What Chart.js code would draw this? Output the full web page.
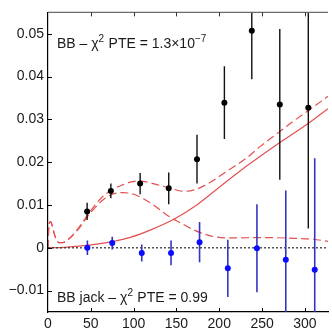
<!DOCTYPE html>
<html><head><meta charset="utf-8">
<script src="https://cdn.jsdelivr.net/npm/chart.js@4/dist/chart.umd.min.js"></script>
<style>html,body{margin:0;padding:0;background:#fff;}#wrap{width:332px;height:330px;}</style>
</head><body><div id="wrap"><canvas id="c" width="332" height="330"></canvas></div>
<script>
// Data
const bbEll = [45.7, 73.4, 107.6, 141, 174, 206, 238, 270.7, 304];
const bbVal = [0.0085, 0.0133, 0.0150, 0.0139, 0.0207, 0.0339, 0.0507, 0.0335, 0.0327];
const bbErr = [0.0020, 0.0017, 0.0025, 0.0037, 0.0057, 0.0085, 0.0113, 0.0176, 0.0282];
const jackEll = [46, 75, 109.5, 143.7, 177, 210, 244, 277.7, 311.5];
const jackVal = [0.0000, 0.0011, -0.0012, -0.0012, 0.0013, -0.0048, -0.0001, -0.0028, -0.0051];
const jackErr = [0.0017, 0.0015, 0.0020, 0.0029, 0.0047, 0.0067, 0.0103, 0.0162, 0.026];
const lensEll = [0, 20, 36, 50, 74, 97, 120, 148, 175, 201, 232, 267, 300, 327];
const lensBB = [0, 0.0001, 0.0004, 0.0007, 0.0014, 0.0025, 0.0042, 0.0068, 0.0102, 0.0143, 0.0191, 0.0241, 0.0285, 0.0325];
const tensEll = [0, 1, 2.5, 4, 7, 10, 13, 17, 22, 28, 36, 47, 63, 75, 88, 100, 112, 124, 140, 155, 167, 180, 194, 215, 250, 290, 310, 327];
const tensBB = [0, 0.005, 0.0061, 0.0058, 0.0035, 0.0018, 0.0012, 0.0012, 0.0017, 0.0027, 0.0045, 0.0075, 0.011, 0.0125, 0.0129, 0.0125, 0.0114, 0.0099, 0.0075, 0.0058, 0.0045, 0.0034, 0.0026, 0.0023, 0.0024, 0.0022, 0.0020, 0.0015];
const totEll = [0, 1, 2.5, 4, 7, 10, 13, 17, 22, 28, 36, 47, 63, 75, 86, 95, 105, 117, 130, 140, 150, 159, 172, 186, 209, 232, 248, 267, 286, 305, 327];
const totBB = [0, 0.005, 0.0061, 0.0058, 0.0035, 0.0018, 0.0012, 0.0012, 0.0017, 0.0028, 0.0047, 0.0079, 0.0118, 0.0136, 0.0146, 0.0153, 0.0156, 0.0153, 0.0146, 0.0141, 0.0135, 0.0132, 0.0136, 0.0149, 0.0179, 0.0210, 0.0237, 0.0266, 0.0295, 0.0322, 0.0354];
const zeroEll = [0, 327];
const zeroVal = [0, 0];
const xTicks = [0, 50, 100, 150, 200, 250, 300];
const xTickLabels = ['0', '50', '100', '150', '200', '250', '300'];
const yTicks = [-0.01, 0, 0.01, 0.02, 0.03, 0.04, 0.05];
const yTickLabels = ['\u22120.01', '0', '0.01', '0.02', '0.03', '0.04', '0.05'];
const topLabel = ['BB \u2013 \u03c7', '2', ' PTE = 1.3\u00d710', '\u22127'];
const bottomLabel = ['BB jack \u2013 \u03c7', '2', ' PTE = 0.99'];

const pts = (xs, ys) => xs.map((x, i) => ({x: x, y: ys[i]}));
const FONT = '"Liberation Sans", Arial, sans-serif';
const RED = 'rgb(228,80,80)';

const decor = {
  id: 'decor',
  beforeDatasetDraw(chart, args) {
    if (args.index !== 1) return;
    const ctx = chart.ctx, xs = chart.scales.x, ys = chart.scales.y, a = chart.chartArea;
    ctx.save();
    ctx.beginPath(); ctx.rect(a.left, a.top, a.right - a.left, a.bottom - a.top); ctx.clip();
    ctx.lineWidth = 1.4;
    ctx.strokeStyle = '#111';
    bbEll.forEach((e, i) => {
      const px = xs.getPixelForValue(e);
      ctx.beginPath();
      ctx.moveTo(px, ys.getPixelForValue(bbVal[i] - bbErr[i]));
      ctx.lineTo(px, ys.getPixelForValue(bbVal[i] + bbErr[i]));
      ctx.stroke();
    });
    ctx.strokeStyle = '#3434bf';
    ctx.lineWidth = 1.6;
    jackEll.forEach((e, i) => {
      const px = xs.getPixelForValue(e);
      ctx.beginPath();
      ctx.moveTo(px, ys.getPixelForValue(jackVal[i] - jackErr[i]));
      ctx.lineTo(px, ys.getPixelForValue(jackVal[i] + jackErr[i]));
      ctx.stroke();
    });
    ctx.restore();
  },
  afterDraw(chart) {
    const ctx = chart.ctx, xs = chart.scales.x, ys = chart.scales.y, a = chart.chartArea;
    ctx.save();
    // top border
    ctx.strokeStyle = '#6a6a6a'; ctx.lineWidth = 1.3;
    ctx.beginPath(); ctx.moveTo(a.left, a.top); ctx.lineTo(a.right, a.top); ctx.stroke();
    // inward ticks
    const L = 4;
    xTicks.forEach(v => {
      const px = Math.round(xs.getPixelForValue(v)) + 0.5;
      if (v === 0) return;
      ctx.strokeStyle = '#000'; ctx.lineWidth = 1;
      ctx.beginPath(); ctx.moveTo(px, a.bottom); ctx.lineTo(px, a.bottom - L); ctx.stroke();
      ctx.strokeStyle = '#333';
      ctx.beginPath(); ctx.moveTo(px, a.top); ctx.lineTo(px, a.top + L); ctx.stroke();
    });
    yTicks.forEach(v => {
      const py = Math.round(ys.getPixelForValue(v)) + 0.5;
      ctx.strokeStyle = '#000'; ctx.lineWidth = 1;
      ctx.beginPath(); ctx.moveTo(a.left, py); ctx.lineTo(a.left + L, py); ctx.stroke();
    });
    // labels
    function drawLabel(parts, x, y) {
      ctx.fillStyle = '#1a1a1a';
      ctx.textBaseline = 'alphabetic';
      ctx.textAlign = 'left';
      let cx = x;
      parts.forEach((p, i) => {
        const sup = i % 2 === 1;
        ctx.font = (sup ? '10px ' : '14px ') + FONT;
        ctx.fillText(p, cx, sup ? y - 6 : y);
        cx += ctx.measureText(p).width + (sup ? 0.5 : 0);
      });
    }
    drawLabel(topLabel, a.left + 9, a.top + 36);
    drawLabel(bottomLabel, a.left + 9, a.bottom - 10);
    ctx.restore();
  }
};

new Chart(document.getElementById('c'), {
  type: 'scatter',
  data: {
    datasets: [
      {data: pts(bbEll, bbVal), backgroundColor: '#000', borderColor: '#000', pointRadius: 3, pointBorderWidth: 0, order: 0},
      {data: pts(jackEll, jackVal), backgroundColor: '#0b0bff', borderColor: '#0b0bff', pointRadius: 3, pointBorderWidth: 0, order: 1},
      {data: pts(zeroEll, zeroVal), showLine: true, borderColor: '#3a3a3a', borderWidth: 1.3, borderDash: [2, 2], pointRadius: 0, order: 2},
      {data: pts(lensEll, lensBB), showLine: true, borderColor: RED, borderWidth: 1.2, pointRadius: 0, cubicInterpolationMode: 'monotone', order: 3},
      {data: pts(tensEll, tensBB), showLine: true, borderColor: RED, borderWidth: 1.2, borderDash: [8, 4], pointRadius: 0, cubicInterpolationMode: 'monotone', order: 4},
      {data: pts(totEll, totBB), showLine: true, borderColor: RED, borderWidth: 1.2, borderDash: [8, 4], pointRadius: 0, cubicInterpolationMode: 'monotone', order: 5}
    ]
  },
  options: {
    responsive: false,
    animation: false,
    events: [],
    clip: {left: 0, top: 0, right: 0, bottom: 0},
    layout: {padding: {top: 9, right: 0, left: 0, bottom: 0}},
    plugins: {legend: {display: false}, tooltip: {enabled: false}},
    scales: {
      x: {
        type: 'linear', min: 0, max: 327,
        afterBuildTicks: s => { s.ticks = xTicks.map(v => ({value: v})); },
        afterFit: s => { s.height = 18; },
        grid: {display: false, drawTicks: false},
        border: {display: true, color: '#000', width: 1.2},
        ticks: {padding: 4, color: '#1a1a1a', font: {family: FONT, size: 14}, maxRotation: 0, autoSkip: false,
                callback: (v, i) => xTickLabels[i]}
      },
      y: {
        type: 'linear', min: -0.015, max: 0.055,
        afterBuildTicks: s => { s.ticks = yTicks.map(v => ({value: v})); },
        afterFit: s => { s.width = 48; },
        grid: {display: false, drawTicks: false},
        border: {display: true, color: '#000', width: 1.2},
        ticks: {padding: 4, color: '#1a1a1a', font: {family: FONT, size: 14}, autoSkip: false,
                callback: (v, i) => yTickLabels[i]}
      }
    }
  },
  plugins: [decor]
});
</script></body></html>
